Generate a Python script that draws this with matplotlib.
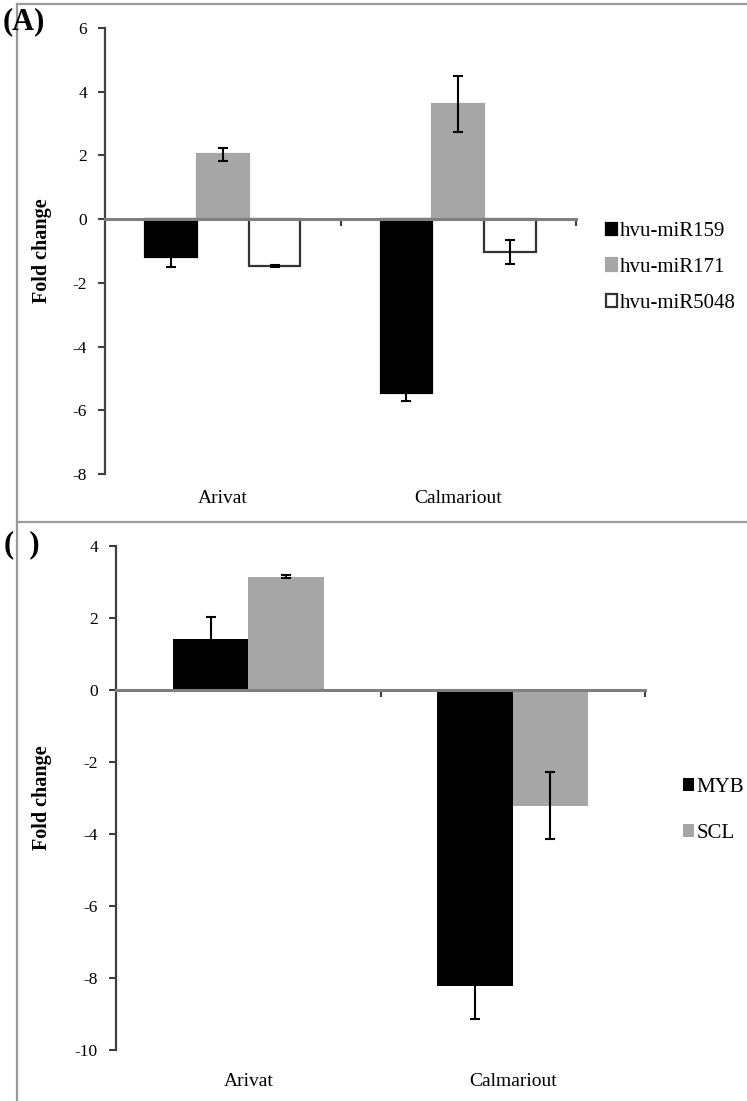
"""Fold change of miRNAs (A) and target genes (B) in two barley cultivars."""
import matplotlib
matplotlib.use("Agg")
import matplotlib.pyplot as plt
from matplotlib.lines import Line2D
from matplotlib.transforms import blended_transform_factory
import numpy as np

plt.rcParams["font.family"] = ["Liberation Serif", "DejaVu Serif"]

# ---------- data ----------
cultivars = ["Arivat", "Calmariout"]

mirnas = ["hvu-miR159", "hvu-miR171", "hvu-miR5048"]
mir_values = [[-1.19, -5.47], [2.03, 3.62], [-1.47, -1.03]]
mir_errors = [[0.31, 0.25], [0.21, 0.87], [0.03, 0.39]]
mir_ticks = [6, 4, 2, 0, -2, -4, -6, -8]

genes = ["MYB", "SCL"]
gene_values = [[1.41, -8.23], [3.15, -3.22]]
gene_errors = [[0.63, 0.92], [0.05, 0.93]]
gene_ticks = [4, 2, 0, -2, -4, -6, -8, -10]

BLACK = "#000000"
GREY = "#a6a6a6"
AXIS = "#7f7f7f"


def style_axes(ax, ticks, label_y, ylabel_x):
    for s in ("top", "right"):
        ax.spines[s].set_visible(False)
    ax.spines["left"].set_color("#404040")
    ax.spines["left"].set_linewidth(1.6)
    ax.spines["bottom"].set_position(("data", 0))
    ax.spines["bottom"].set_color(AXIS)
    ax.spines["bottom"].set_linewidth(2.2)
    ax.set_ylim(min(ticks), max(ticks))
    ax.set_yticks(ticks)
    ax.set_yticklabels([str(t) for t in ticks], fontsize=12.5)
    ax.tick_params(axis="y", direction="out", length=5, width=1.5,
                   color="#404040", pad=8)
    ax.set_xlim(-0.5, 1.5)
    ax.set_xticks([0.5, 1.5])
    ax.set_xticklabels([])
    ax.tick_params(axis="x", direction="out", length=5, width=1.5,
                   color="#404040")
    ax.set_ylabel("Fold change", fontsize=14.5, fontweight="bold")
    ax.yaxis.set_label_coords(ylabel_x, 0.5)
    trans = blended_transform_factory(ax.transData, ax.transAxes)
    for i, c in enumerate(cultivars):
        ax.text(i, label_y, c, transform=trans, ha="center", va="center",
                fontsize=14)


fig = plt.figure(figsize=(7.47, 11.01), dpi=100)

# ---------- panel A: miRNAs ----------
axA = fig.add_axes([0.1406, 0.5695, 0.6305, 0.4051])
x = np.arange(len(cultivars))
width = 0.22
faces = [BLACK, GREY, "white"]
edges = [BLACK, GREY, "#333333"]
for i, name in enumerate(mirnas):
    axA.bar(x + (i - 1) * width, mir_values[i], width, yerr=mir_errors[i],
            color=faces[i], edgecolor=edges[i], linewidth=1.6, label=name,
            error_kw=dict(ecolor="black", elinewidth=1.5, capsize=3.5,
                          capthick=1.5), zorder=2)
style_axes(axA, mir_ticks, -0.054, -0.1125)
axA.legend(loc="center left", bbox_to_anchor=(0.800, 0.757),
           bbox_transform=fig.transFigure, frameon=False, fontsize=15,
           handlelength=0.55, handleheight=0.55, handletextpad=0.1,
           labelspacing=0.8, borderaxespad=0)

# ---------- panel B: target genes ----------
axB = fig.add_axes([0.1553, 0.0463, 0.7082, 0.4578])
width = 0.285
for i, name in enumerate(genes):
    axB.bar(x + (i - 0.5) * width, gene_values[i], width, yerr=gene_errors[i],
            color=faces[i], edgecolor=faces[i], linewidth=0, label=name,
            error_kw=dict(ecolor="black", elinewidth=1.5, capsize=3.5,
                          capthick=1.5), zorder=2)
style_axes(axB, gene_ticks, -0.063, -0.121)
axB.legend(loc="center left", bbox_to_anchor=(0.903, 0.264),
           bbox_transform=fig.transFigure, frameon=False, fontsize=15,
           handlelength=0.55, handleheight=0.55, handletextpad=0.1,
           labelspacing=1.3, borderaxespad=0)

# ---------- panel frames and letters ----------
frame = dict(color="#9a9a9a", linewidth=1.6, transform=fig.transFigure)
fig.add_artist(Line2D([0.023, 0.023], [0.0, 0.9964], **frame))
fig.add_artist(Line2D([0.023, 1.0], [0.9964, 0.9964], **frame))
fig.add_artist(Line2D([0.023, 1.0], [0.526, 0.526], **frame))

fig.text(0.003, 0.980, "(A)", fontsize=22, fontweight="bold", va="center")
fig.text(0.006, 0.505, "(  )", fontsize=22, fontweight="bold", va="center")

fig.savefig("out.png", dpi=100)
